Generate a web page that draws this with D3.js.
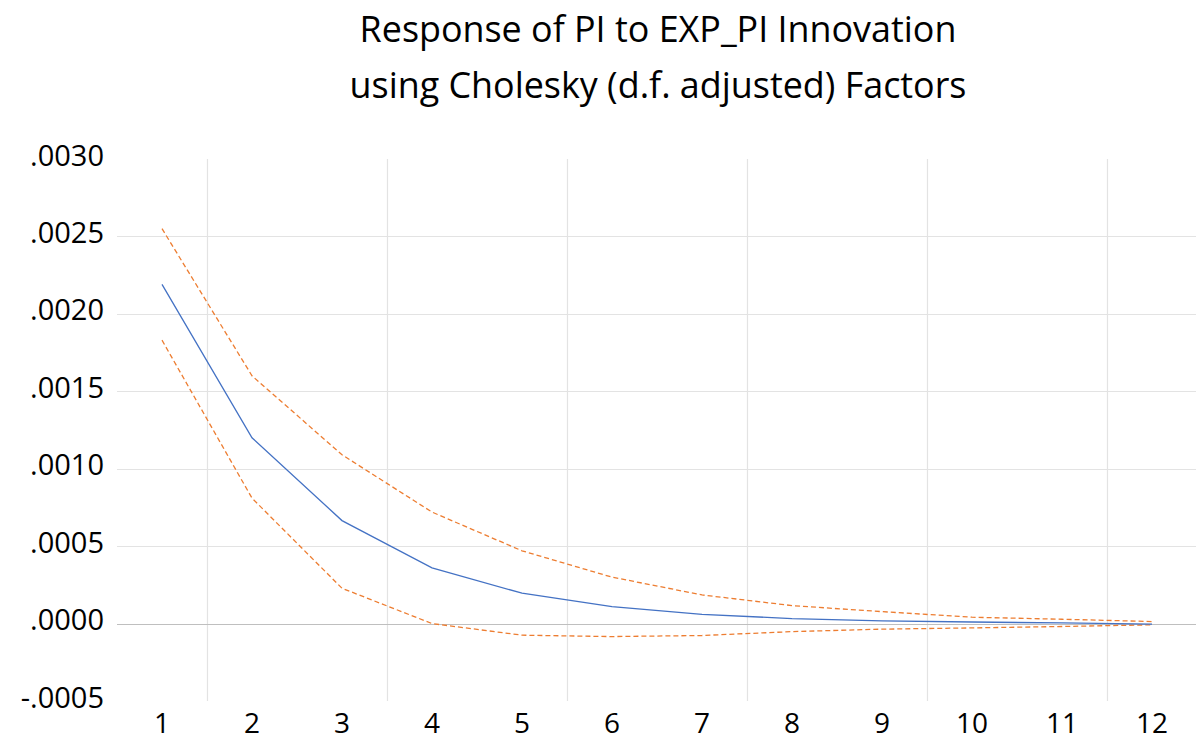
<!DOCTYPE html>
<html><head><meta charset="utf-8">
<script src="https://cdn.jsdelivr.net/npm/d3@7"></script>
<style>
html,body{margin:0;padding:0;background:#fff;}
svg{display:block;}
text{font-family:"Open Sans","Noto Sans",sans-serif;fill:#000;}
</style></head>
<body>
<svg id="chart" width="1196" height="744"></svg>
<script>
const titleLines = ["Response of PI to EXP_PI Innovation", "using Cholesky (d.f. adjusted) Factors"];
const periods = ["1","2","3","4","5","6","7","8","9","10","11","12"];
const response = [0.00219, 0.00120, 0.000665, 0.00036, 0.000196, 0.00011, 0.00006, 0.000032, 0.000018, 0.00001, 0.000004, -0.000003];
const upperBand = [0.00255, 0.00160, 0.00109, 0.00072, 0.00047, 0.00030, 0.000185, 0.000116, 0.000077, 0.000041, 0.000028, 0.000013];
const lowerBand = [0.00183, 0.00081, 0.000228, 0.0000, -0.000075, -0.000084, -0.000077, -0.000052, -0.000036, -0.000028, -0.000019, -0.000008];
const yTicks = [-0.0005, 0, 0.0005, 0.001, 0.0015, 0.002, 0.0025, 0.003];

(function () {
const svg = d3.select("#chart");
const pLeft = 117, pRight = 1197, pTop = 159, pBottom = 701;

const x = d3.scalePoint().domain(periods).range([pLeft, pRight]).padding(0.5);
const y = d3.scaleLinear().domain([-0.0005, 0.003]).range([pBottom, pTop]);
const step = x.step();

// horizontal gridlines
svg.append("g").selectAll("line")
  .data(yTicks.filter(t => t > -0.0005 && t < 0.003 && t !== 0))
  .join("line")
  .attr("x1", pLeft).attr("x2", 1196)
  .attr("y1", d => Math.round(y(d)) + 0.5).attr("y2", d => Math.round(y(d)) + 0.5)
  .attr("stroke", "#e3e3e3").attr("stroke-width", 1.2);

// vertical gridlines at boundaries between category pairs
svg.append("g").selectAll("line")
  .data(periods.filter((p, i) => i % 2 === 0 && i < periods.length - 1))
  .join("line")
  .attr("x1", d => Math.round(x(d) + step / 2) + 0.5)
  .attr("x2", d => Math.round(x(d) + step / 2) + 0.5)
  .attr("y1", pTop).attr("y2", pBottom)
  .attr("stroke", "#e3e3e3").attr("stroke-width", 1.2);

// zero line
svg.append("line")
  .attr("x1", pLeft).attr("x2", 1196)
  .attr("y1", Math.round(y(0)) + 0.5).attr("y2", Math.round(y(0)) + 0.5)
  .attr("stroke", "#bfbfbf").attr("stroke-width", 1.2);

// y axis labels
const fmt = v => {
  if (v === 0) return ".0000";
  const s = Math.abs(v).toFixed(4).replace(/^0/, "");
  return (v < 0 ? "-" : "") + s;
};
svg.append("g").selectAll("text")
  .data(yTicks).join("text")
  .attr("x", 104).attr("y", d => y(d) - 5)
  .attr("text-anchor", "end").attr("dominant-baseline", "central")
  .style("font-size", "29px")
  .text(fmt);

// x axis labels
svg.append("g").selectAll("text")
  .data(periods).join("text")
  .attr("x", d => x(d)).attr("y", 722)
  .attr("text-anchor", "middle").attr("dominant-baseline", "central")
  .style("font-size", "28px")
  .text(d => d);

// lines
const line = d3.line().x((d, i) => x(periods[i])).y(d => y(d));
svg.append("path").datum(upperBand).attr("d", line)
  .attr("fill", "none").attr("stroke", "#ED7D31").attr("stroke-width", 1.3)
  .attr("stroke-dasharray", "5,3");
svg.append("path").datum(lowerBand).attr("d", line)
  .attr("fill", "none").attr("stroke", "#ED7D31").attr("stroke-width", 1.3)
  .attr("stroke-dasharray", "5,3");
svg.append("path").datum(response).attr("d", line)
  .attr("fill", "none").attr("stroke", "#4472C4").attr("stroke-width", 1.3);

// title
const titleY = [28, 84];
const titleW = [597, 617];
titleLines.forEach((t, i) => {
  const el = svg.append("text")
    .attr("x", 658).attr("y", titleY[i])
    .attr("text-anchor", "middle").attr("dominant-baseline", "central")
    .style("font-size", "34px")
    .text(t);
  const w = el.node().getComputedTextLength();
  el.style("font-size", (34 * titleW[i] / w).toFixed(2) + "px");
});
})();
</script>
</body></html>
